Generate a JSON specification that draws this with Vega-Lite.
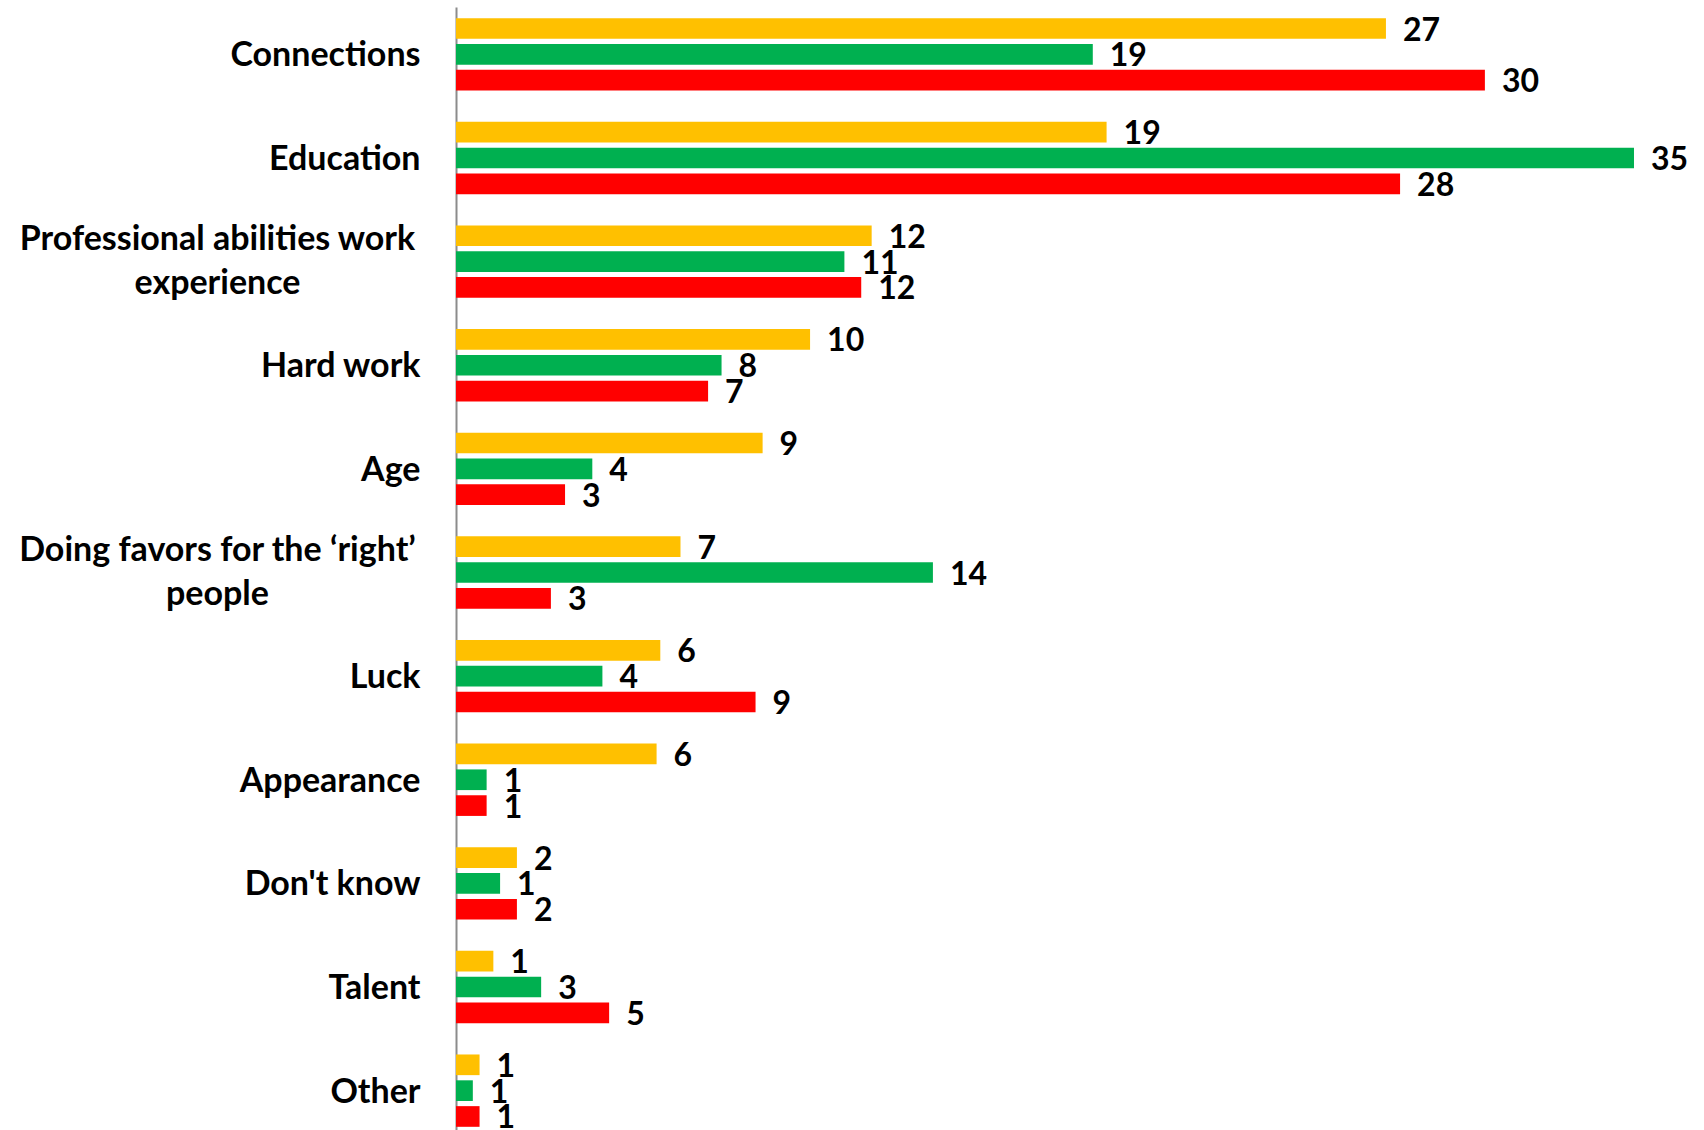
{
  "$schema": "https://vega.github.io/schema/vega-lite/v6.json",
  "autosize": "none",
  "padding": {"left": 456, "top": 7, "right": 0, "bottom": 0},
  "width": 1248,
  "height": 1131,
  "background": "white",
  "config": {"view": {"stroke": null}},
  "data": {"values": [
    {"category": "Connections", "series": "Series 1", "value": 27.63, "label": "27"},
    {"category": "Connections", "series": "Series 2", "value": 18.92, "label": "19"},
    {"category": "Connections", "series": "Series 3", "value": 30.57, "label": "30"},
    {"category": "Education", "series": "Series 1", "value": 19.33, "label": "19"},
    {"category": "Education", "series": "Series 2", "value": 35.0, "label": "35"},
    {"category": "Education", "series": "Series 3", "value": 28.05, "label": "28"},
    {"category": "Professional abilities work experience", "series": "Series 1", "value": 12.35, "label": "12"},
    {"category": "Professional abilities work experience", "series": "Series 2", "value": 11.54, "label": "11"},
    {"category": "Professional abilities work experience", "series": "Series 3", "value": 12.04, "label": "12"},
    {"category": "Hard work", "series": "Series 1", "value": 10.52, "label": "10"},
    {"category": "Hard work", "series": "Series 2", "value": 7.89, "label": "8"},
    {"category": "Hard work", "series": "Series 3", "value": 7.49, "label": "7"},
    {"category": "Age", "series": "Series 1", "value": 9.11, "label": "9"},
    {"category": "Age", "series": "Series 2", "value": 4.05, "label": "4"},
    {"category": "Age", "series": "Series 3", "value": 3.24, "label": "3"},
    {"category": "Doing favors for the ‘right’ people", "series": "Series 1", "value": 6.67, "label": "7"},
    {"category": "Doing favors for the ‘right’ people", "series": "Series 2", "value": 14.17, "label": "14"},
    {"category": "Doing favors for the ‘right’ people", "series": "Series 3", "value": 2.82, "label": "3"},
    {"category": "Luck", "series": "Series 1", "value": 6.07, "label": "6"},
    {"category": "Luck", "series": "Series 2", "value": 4.35, "label": "4"},
    {"category": "Luck", "series": "Series 3", "value": 8.9, "label": "9"},
    {"category": "Appearance", "series": "Series 1", "value": 5.96, "label": "6"},
    {"category": "Appearance", "series": "Series 2", "value": 0.91, "label": "1"},
    {"category": "Appearance", "series": "Series 3", "value": 0.91, "label": "1"},
    {"category": "Don't know", "series": "Series 1", "value": 1.81, "label": "2"},
    {"category": "Don't know", "series": "Series 2", "value": 1.31, "label": "1"},
    {"category": "Don't know", "series": "Series 3", "value": 1.81, "label": "2"},
    {"category": "Talent", "series": "Series 1", "value": 1.11, "label": "1"},
    {"category": "Talent", "series": "Series 2", "value": 2.53, "label": "3"},
    {"category": "Talent", "series": "Series 3", "value": 4.55, "label": "5"},
    {"category": "Other", "series": "Series 1", "value": 0.7, "label": "1"},
    {"category": "Other", "series": "Series 2", "value": 0.5, "label": "1"},
    {"category": "Other", "series": "Series 3", "value": 0.7, "label": "1"}
  ]},
  "encoding": {
    "y": {
      "field": "category", "type": "nominal", "sort": null,
      "scale": {"paddingInner": 0.302, "paddingOuter": 0.108},
      "axis": {
        "title": null, "ticks": false, "grid": false,
        "domainColor": "#8c8c8c", "domainWidth": 2,
        "labelFont": "Lato", "labelFontWeight": "bold", "labelFontSize": 34,
        "labelColor": "#000000", "labelLineHeight": 44, "labelLimit": 0,
        "labelExpr": "datum.value == 'Professional abilities work experience' ? ['Professional abilities work', 'experience'] : datum.value == 'Doing favors for the ‘right’ people' ? ['Doing favors for the ‘right’', 'people'] : datum.value",
        "labelAlign": {"condition": {"test": "datum.value == 'Professional abilities work experience' || datum.value == 'Doing favors for the ‘right’ people'", "value": "center"}, "value": "right"},
        "labelPadding": {"condition": {"test": "datum.value == 'Professional abilities work experience' || datum.value == 'Doing favors for the ‘right’ people'", "value": 239}, "value": 36},
        "labelOffset": {"condition": {"test": "datum.value == 'Professional abilities work experience' || datum.value == 'Doing favors for the ‘right’ people'", "value": -22}, "value": 2}
      }
    },
    "yOffset": {"field": "series", "type": "nominal", "sort": ["Series 1", "Series 2", "Series 3"], "scale": {"paddingInner": 0.2, "paddingOuter": 0}},
    "x": {"field": "value", "type": "quantitative", "scale": {"domain": [0, 37.08], "nice": false, "zero": true}, "axis": null}
  },
  "layer": [
    {
      "mark": {"type": "bar"},
      "encoding": {
        "color": {"field": "series", "type": "nominal", "scale": {"domain": ["Series 1", "Series 2", "Series 3"], "range": ["#FFC000", "#00B050", "#FF0000"]}, "legend": null}
      }
    },
    {
      "mark": {"type": "text", "align": "left", "baseline": "middle", "dx": 17, "dy": 2, "font": "Lato", "fontWeight": "bold", "fontSize": 32, "color": "#000000"},
      "encoding": {"text": {"field": "label"}}
    }
  ]
}
